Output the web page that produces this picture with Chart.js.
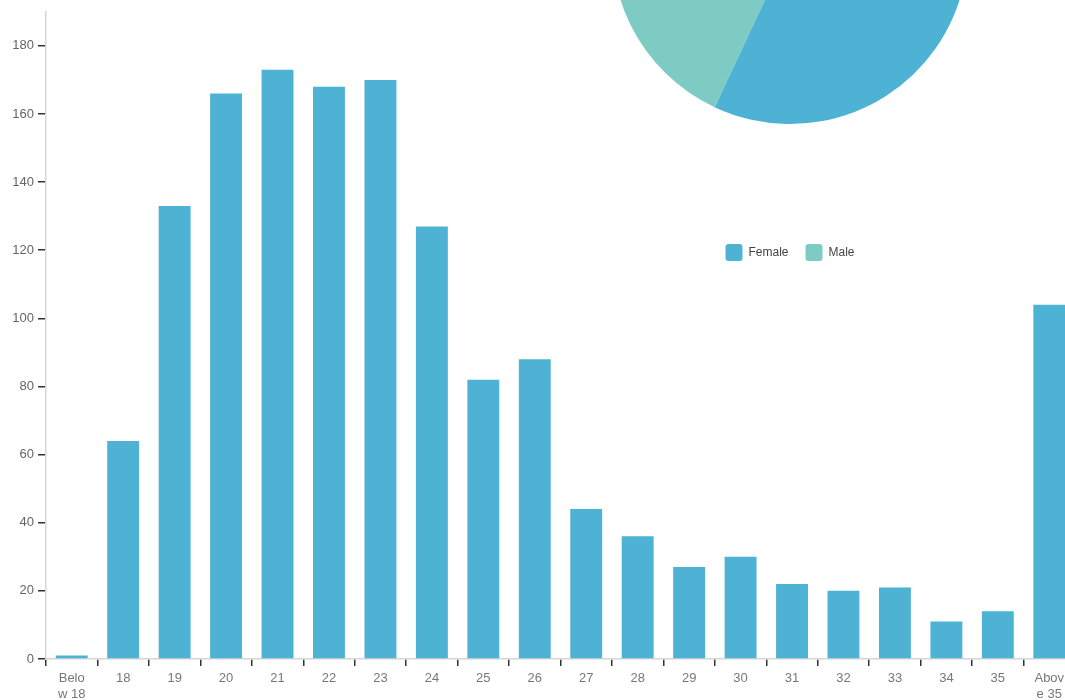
<!DOCTYPE html>
<html>
<head>
<meta charset="utf-8">
<script src="https://cdn.jsdelivr.net/npm/chart.js@4.4.1/dist/chart.umd.min.js"></script>
<style>
  html, body { margin: 0; padding: 0; background: #fff; overflow: hidden; width: 1065px; height: 700px; }
  #barWrap { position: absolute; left: 0; top: 0; width: 1080px; height: 700px; }
  #pieWrap { position: absolute; left: 590px; top: -335px; width: 400px; height: 606px; }
</style>
</head>
<body>
<div id="barWrap"><canvas id="bar"></canvas></div>
<div id="pieWrap"><canvas id="pie"></canvas></div>
<script>
const ageLabels = [['Belo','w 18'],'18','19','20','21','22','23','24','25','26','27','28','29','30','31','32','33','34','35',['Abov','e 35']];
const ageCounts = [1,64,133,166,173,168,170,127,82,88,44,36,27,30,22,20,21,11,14,104];
const genderLabels = ['Female','Male'];
const genderCounts = [855,646];
const yTicks = [0,20,40,60,80,100,120,140,160,180];

const BLUE = '#4db2d3';
const TEAL = '#7ecbc3';
const FONT = 'Liberation Sans, Arial, sans-serif';

new Chart(document.getElementById('bar'), {
  type: 'bar',
  data: {
    labels: ageLabels,
    datasets: [{ data: ageCounts, backgroundColor: BLUE, borderWidth: 0, barPercentage: 0.62, categoryPercentage: 1 }]
  },
  options: {
    responsive: true, maintainAspectRatio: false, animation: false,
    layout: { padding: { top: 10, right: 5, left: 0, bottom: 0 } },
    plugins: { legend: { display: false }, tooltip: { enabled: false } },
    scales: {
      x: {
        grid: { offset: true, drawOnChartArea: false, drawTicks: true, tickLength: 7, color: '#333', lineWidth: 1.5 },
        border: { color: '#d6d6d6', width: 1.5 },
        ticks: { color: '#777', font: { family: FONT, size: 13 }, padding: 5, maxRotation: 0, autoSkip: false },
        afterFit: s => { s.height = 41; }
      },
      y: {
        min: 0, max: 190,
        afterBuildTicks: s => { s.ticks = yTicks.map(v => ({ value: v })); },
        grid: { drawOnChartArea: false, drawTicks: true, tickLength: 8, color: '#333', lineWidth: 1.5 },
        border: { color: '#d6d6d6', width: 1.5 },
        ticks: { color: '#666', font: { family: FONT, size: 13 }, padding: 4 },
        afterFit: s => { s.width = 46; }
      }
    }
  }
});

new Chart(document.getElementById('pie'), {
  type: 'pie',
  data: {
    labels: genderLabels,
    datasets: [{ data: genderCounts, backgroundColor: [BLUE, TEAL], borderWidth: 0 }]
  },
  options: {
    responsive: true, maintainAspectRatio: false, animation: false,
    radius: 178,
    plugins: {
      tooltip: { enabled: false },
      legend: {
        position: 'bottom',
        labels: {
          font: { family: FONT, size: 12 }, color: '#444',
          boxWidth: 17, boxHeight: 17, useBorderRadius: true, borderRadius: 3, padding: 17
        }
      }
    }
  }
});
</script>
</body>
</html>
